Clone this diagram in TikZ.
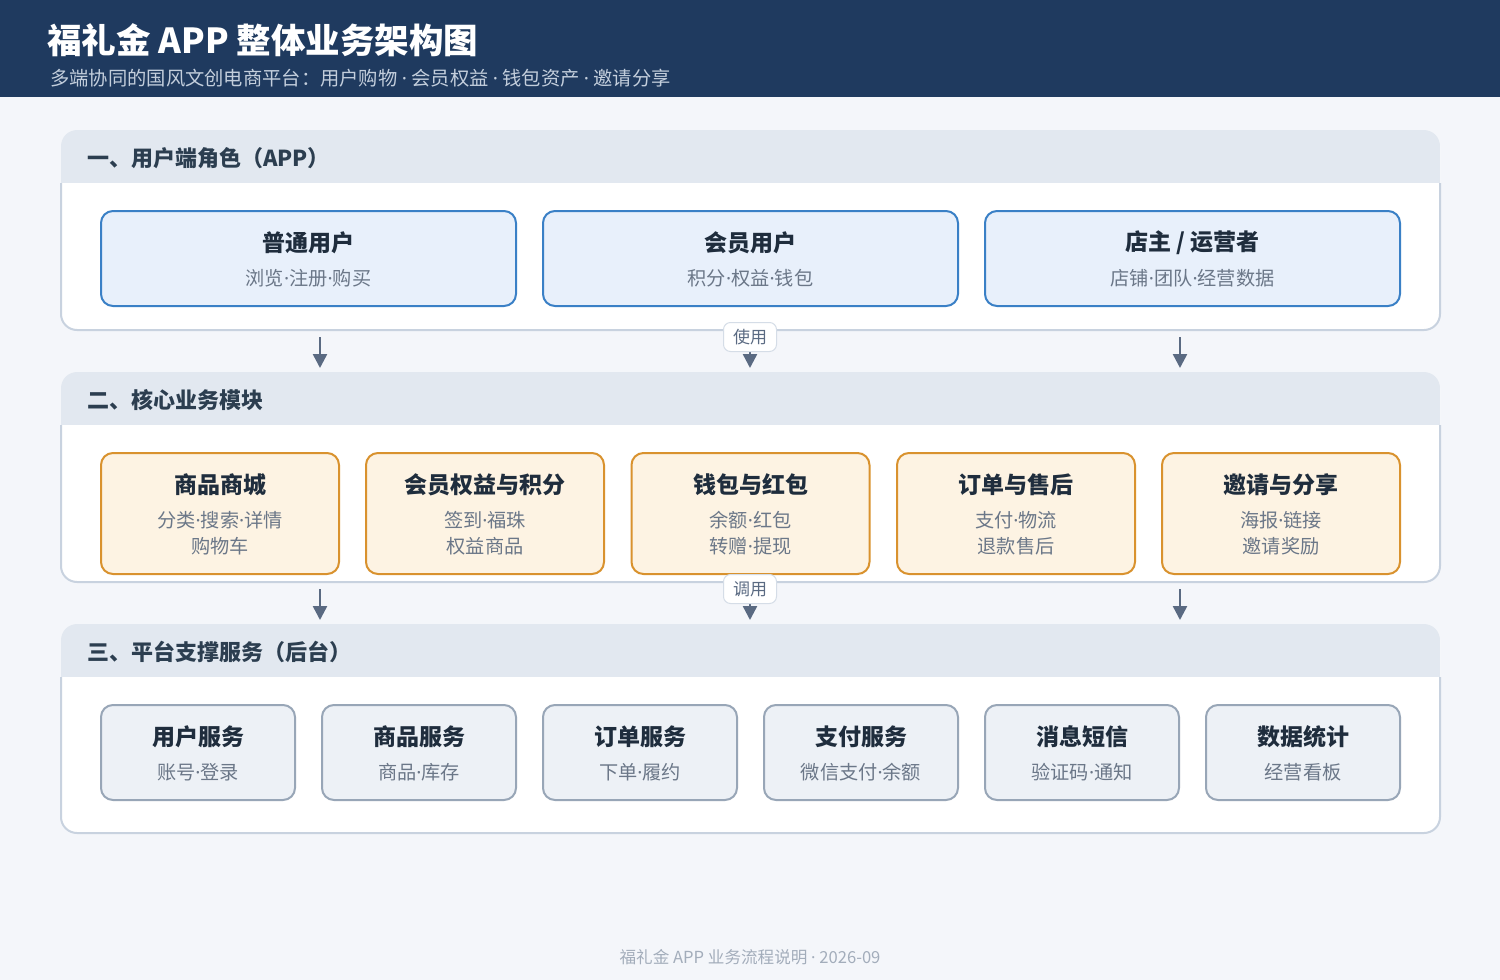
\documentclass[tikz,border=0pt]{standalone}
\usepackage{fontspec}
\setmainfont{Noto Sans CJK SC}
\newfontfamily\dotfont{Noto Sans}
\newcommand\mdot{{\dotfont ·}}
\usetikzlibrary{arrows.meta,calc}

\definecolor{headbg}{HTML}{1F3A5F}
\definecolor{headsub}{HTML}{C3CEDC}
\definecolor{pagebg}{HTML}{F4F6FA}
\definecolor{bandbg}{HTML}{E2E8F0}
\definecolor{secline}{HTML}{C8D2DF}
\definecolor{sectext}{HTML}{2C3E50}
\definecolor{cardtext}{HTML}{1F2D3D}
\definecolor{subtext}{HTML}{6B7788}
\definecolor{userfill}{HTML}{E8F0FB}
\definecolor{userline}{HTML}{3A80C6}
\definecolor{modfill}{HTML}{FDF3E3}
\definecolor{modline}{HTML}{D9922E}
\definecolor{svcfill}{HTML}{EDF1F6}
\definecolor{svcline}{HTML}{98A6B7}
\definecolor{flowcol}{HTML}{5A6A82}
\definecolor{tagline}{HTML}{D5DDE7}
\definecolor{foottext}{HTML}{A3ADBB}

\tikzset{
	card/.style={rounded corners=12pt, line width=2pt, inner sep=0pt},
	usercard/.style={card, draw=userline, fill=userfill, minimum width=415pt, minimum height=95pt},
	modcard/.style={card, draw=modline, fill=modfill, minimum width=238pt, minimum height=121pt},
	svccard/.style={card, draw=svcline, fill=svcfill, minimum width=194pt, minimum height=95pt},
	cardtitle/.style={text=cardtext, font=\fontsize{23}{28}\selectfont\bfseries, inner sep=0pt},
	cardsub/.style={text=subtext, font=\fontsize{19.2}{26}\selectfont, align=center, inner sep=0pt},
	sectitle/.style={anchor=west, text=sectext, font=\fontsize{22}{26}\selectfont\bfseries, inner sep=0pt},
	flow/.style={draw=flowcol, line width=2.5pt, -{Triangle[width=14pt,length=14pt]}},
	flowtag/.style={draw=tagline, fill=white, line width=1pt, rounded corners=7pt, text=flowcol,
		font=\fontsize{17}{20}\selectfont, minimum width=53pt, minimum height=29pt, inner sep=0pt}
}

\begin{document}
\begin{tikzpicture}[x=1pt, y=-1pt]
	
	% page and header
	\useasboundingbox (0,0) rectangle (1500,980);
	\fill[pagebg] (0,0) rectangle (1500,980);
	\fill[headbg] (0,0) rectangle (1500,97);
	\node[anchor=west, text=white, font=\fontsize{34.5}{40}\selectfont\bfseries, inner sep=0pt] (title) at (47,40) {福礼金 APP 整体业务架构图};
	\node[anchor=west, text=headsub, font=\fontsize{19.3}{22}\selectfont, inner sep=0pt] (subtitle) at (50,78) {多端协同的国风文创电商平台：用户购物 \mdot{} 会员权益 \mdot{} 钱包资产 \mdot{} 邀请分享};
	
	% three sections
	\foreach \sy/\sh/\ttl [count=\s] in {130/200/{一、用户端角色（APP）}, 372/210/{二、核心业务模块}, 624/209/{三、平台支撑服务（后台）}} {
		\fill[white, rounded corners=16pt] (61,\sy) rectangle (1440,\sy+\sh);
		\begin{scope}
			\clip[rounded corners=16pt] (61,\sy) rectangle (1440,\sy+\sh);
			\fill[bandbg] (61,\sy) rectangle (1440,\sy+53);
		\end{scope}
		\draw[secline, line width=2pt, rounded corners=16pt] (61,\sy+53) -- (61,\sy+\sh) -- (1440,\sy+\sh) -- (1440,\sy+53);
		\node[sectitle] (sec\s) at (87,\sy+28) {\ttl};
	}
	
	% user roles
	\foreach \cx/\ttl/\sb [count=\i] in {308.5/普通用户/{浏览\mdot 注册\mdot 购买}, 750.5/会员用户/{积分\mdot 权益\mdot 钱包}, 1192.5/{店主 / 运营者}/{店铺\mdot 团队\mdot 经营数据}} {
		\node[usercard] (user\i) at (\cx,258.5) {};
		\node[cardtitle] (user\i t) at (\cx,243) {\ttl};
		\node[cardsub] (user\i s) at (\cx,278) {\sb};
	}
	
	% core modules
	\foreach \cx/\ttl/\sb [count=\i] in {220/商品商城/{分类\mdot 搜索\mdot 详情\\购物车}, 485/会员权益与积分/{签到\mdot 福珠\\权益商品}, 750.5/钱包与红包/{余额\mdot 红包\\转赠\mdot 提现}, 1016/订单与售后/{支付\mdot 物流\\退款售后}, 1281/邀请与分享/{海报\mdot 链接\\邀请奖励}} {
		\node[modcard] (mod\i) at (\cx,513.5) {};
		\node[cardtitle] (mod\i t) at (\cx,485) {\ttl};
		\node[cardsub] (mod\i s) at (\cx,533) {\sb};
	}
	
	% platform services
	\foreach \cx/\ttl/\sb [count=\i] in {198/用户服务/{账号\mdot 登录}, 419/商品服务/{商品\mdot 库存}, 640/订单服务/{下单\mdot 履约}, 861/支付服务/{微信支付\mdot 余额}, 1082/消息短信/{验证码\mdot 通知}, 1303/数据统计/经营看板} {
		\node[svccard] (svc\i) at (\cx,752.5) {};
		\node[cardtitle] (svc\i t) at (\cx,737) {\ttl};
		\node[cardsub] (svc\i s) at (\cx,772) {\sb};
	}
	
	% arrows between sections
	\foreach \ax [count=\i] in {320,750,1180} {
		\coordinate (useA\i) at (\ax,337);
		\coordinate (useB\i) at (\ax,368);
		\draw[flow] (useA\i) -- (useB\i);
		\coordinate (callA\i) at (\ax,589);
		\coordinate (callB\i) at (\ax,620);
		\draw[flow] (callA\i) -- (callB\i);
	}
	\node[flowtag] (usetag) at (750,337) {使用};
	\node[flowtag] (calltag) at (750,589) {调用};
	
	% footer
	\node[text=foottext, font=\fontsize{16.6}{20}\selectfont, inner sep=0pt] (footer) at (750,957) {福礼金 APP 业务流程说明 \mdot{} 2026-09};
	
\end{tikzpicture}
\end{document}
